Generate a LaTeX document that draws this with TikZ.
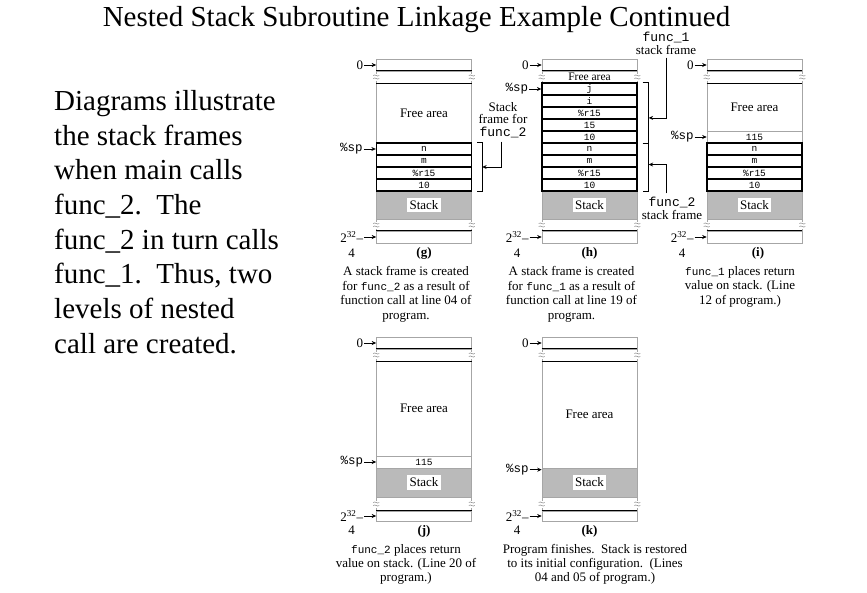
\documentclass[tikz,border=0pt]{standalone}
\usepackage{fontspec}
\setmainfont{Liberation Serif}
\setmonofont{Liberation Mono}
\usetikzlibrary{arrows.meta, positioning, calc}

\newcommand{\fname}[1]{{\ttfamily\fontsize{11}{14.7}\selectfont #1}}

\begin{document}
\begin{tikzpicture}[
    x=1pt, y=-1pt,
    font=\fontsize{13}{14.7}\selectfont,
    rim/.style={
        rectangle, draw=gray!70, line width=0.6pt,
        minimum width=95pt, inner sep=0pt
    },
    slot/.style={
        rim, minimum height=12pt,
        font=\ttfamily\fontsize{9.5}{10}\selectfont
    },
    cell/.style={slot, draw=black, line width=1.3pt},
    freebox/.style={rim},
    heap/.style={rim, fill=black!27},
    stacktag/.style={fill=white, inner sep=2.5pt},
    bar/.style={draw=black, line width=1.3pt},
    lbl/.style={inner sep=1pt},
    reg/.style={lbl, font=\ttfamily\fontsize{12.5}{14}\selectfont},
    ptr/.style={-{Stealth[length=4.5pt, width=4pt]}, line width=0.8pt},
    bracket/.style={draw=black, line width=1pt},
    tag/.style={font=\bfseries\fontsize{13}{14.7}\selectfont},
    capt/.style={align=center, anchor=north, inner sep=0pt},
    note/.style={align=center, font=\fontsize{13}{12.8}\selectfont},
    squig/.pic={
        \fill[white] (-1.6,-3.5) rectangle (1.6,3.5);
        \draw[gray, line width=0.5pt] (-3,-1.5) .. controls (-1,-3.5) and (1,0.5) .. (3,-1.5);
        \draw[gray, line width=0.5pt] (-3,1.5) .. controls (-1,-0.5) and (1,3.5) .. (3,1.5);
    }
]
\useasboundingbox (0,0) rectangle (867,592);

% -------------------------
% Title and description
% -------------------------
\node[anchor=base, font=\fontsize{29}{30}\selectfont] (title) at (416.5,26) {Nested Stack Subroutine Linkage Example Continued};
\node[anchor=north west, align=left, inner sep=0pt, font=\fontsize{29}{34.7}\selectfont] (desc) at (54,90)
    {Diagrams illustrate\\the stack frames\\when main calls\\func\_2.\ \ The\\func\_2 in turn calls\\func\_1.\ \ Thus, two\\levels of nested\\call are created.};

% -------------------------
% (g) frame for func_2
% -------------------------
\node[slot] (gtop) at (424,65) {};
\node[rim, minimum height=12pt] (gbrk) at (424,77) {};
\node[freebox, minimum height=60pt] (gfree) at (424,113) {Free area};
\node[heap, minimum height=28pt] (gheap) at (424,205) {};
\node[stacktag] (gst) at (gheap) {Stack};
\node[rim, minimum height=12pt] (gbrk2) at (424,225) {};
\node[slot] (gend) at (424,237) {};
\node[cell] (gn) at (424,149) {n};
\node[cell] (gm) at (424,161) {m};
\node[cell] (gr) at (424,173) {\%r15};
\node[cell] (gten) at (424,185) {10};
\draw[bar] (gbrk.north west) -- (gbrk.north east) (gbrk.south west) -- (gbrk.south east) (gend.north west) -- (gend.north east);
\pic at (gbrk.west) {squig}; \pic at (gbrk.east) {squig}; \pic at (gbrk2.west) {squig}; \pic at (gbrk2.east) {squig};

\node[lbl, left=12pt of gtop] (gzero) {0};
\node[reg, left=12pt of gn] (gsp) {\%sp};
\node[lbl, left=12pt of gend] (glim) {2\textsuperscript{32}--};
\node[lbl, below=4pt of glim] (gfour) {4};
\draw[ptr] (gzero.east) -- (gtop.west);
\draw[ptr] (gsp.east) -- (gn.west);
\draw[ptr] (glim.east) -- (gend.west);

\draw[bracket] ([xshift=5pt]gn.north east) -- ++(5,0) |- ([xshift=5pt]gten.south east);
\coordinate (gmid) at ([xshift=10pt]$(gn.north east)!0.5!(gten.south east)$);

\node[tag] (gtag) at (424,253) {(g)};
\node[capt] (gcap) at (406,266) {A stack frame is created\\for \fname{func\_2} as a result of\\function call at line 04 of\\program.};

% -------------------------
% (h) frame for func_1 on top
% -------------------------
\node[slot] (htop) at (589.5,65) {};
\node[rim, minimum height=12pt, font=\fontsize{11.5}{12}\selectfont] (hbrk) at (589.5,77) {Free area};
\node[heap, minimum height=28pt] (hheap) at (589.5,205) {};
\node[stacktag] (hst) at (hheap) {Stack};
\node[rim, minimum height=12pt] (hbrk2) at (589.5,225) {};
\node[slot] (hend) at (589.5,237) {};
\node[cell] (hj) at (589.5,89) {j};
\node[cell] (hi) at (589.5,101) {i};
\node[cell] (hr1) at (589.5,113) {\%r15};
\node[cell] (hfif) at (589.5,125) {15};
\node[cell] (hten1) at (589.5,137) {10};
\node[cell] (hn) at (589.5,149) {n};
\node[cell] (hm) at (589.5,161) {m};
\node[cell] (hr2) at (589.5,173) {\%r15};
\node[cell] (hten2) at (589.5,185) {10};
\draw[bar] (hbrk.north west) -- (hbrk.north east) (hend.north west) -- (hend.north east);
\pic at (hbrk.west) {squig}; \pic at (hbrk.east) {squig}; \pic at (hbrk2.west) {squig}; \pic at (hbrk2.east) {squig};

\node[lbl, left=12pt of htop] (hzero) {0};
\node[reg, left=12pt of hj] (hsp) {\%sp};
\node[lbl, left=12pt of hend] (hlim) {2\textsuperscript{32}--};
\node[lbl, below=4pt of hlim] (hfour) {4};
\draw[ptr] (hzero.east) -- (htop.west);
\draw[ptr] (hsp.east) -- (hj.west);
\draw[ptr] (hlim.east) -- (hend.west);

\draw[bracket] ([xshift=5pt]hj.north east) -- ++(6,0) |- ([xshift=5pt]hten2.south east);
\draw[bracket] ([xshift=5pt]hten1.south east) -- ++(6,0);
\coordinate (hmid1) at ([xshift=11pt]$(hj.north east)!0.58!(hten1.south east)$);
\coordinate (hmid2) at ([xshift=11pt]$(hn.north east)!0.45!(hten2.south east)$);

\node[note] (hnote) at (503,120) {Stack\\frame for\\{\ttfamily func\_2}};
\draw[ptr] ([xshift=-2pt]hnote.south) |- (gmid);
\node[note] (hf1) at (666,43) {{\ttfamily func\_1}\\stack frame};
\draw[ptr] (hf1.south) |- (hmid1);
\node[note] (hf2) at (672,208) {{\ttfamily func\_2}\\stack frame};
\draw[ptr] ([xshift=-6pt]hf2.north) |- (hmid2);

\node[tag] (htag) at (589.5,253) {(h)};
\node[capt] (hcap) at (571.5,266) {A stack frame is created\\for \fname{func\_1} as a result of\\function call at line 19 of\\program.};

% -------------------------
% (i) func_1 returns value
% -------------------------
\node[slot] (itop) at (754.5,65) {};
\node[rim, minimum height=12pt] (ibrk) at (754.5,77) {};
\node[freebox, minimum height=48pt] (ifree) at (754.5,107) {Free area};
\node[slot] (iret) at (754.5,137) {115};
\node[heap, minimum height=28pt] (iheap) at (754.5,205) {};
\node[stacktag] (ist) at (iheap) {Stack};
\node[rim, minimum height=12pt] (ibrk2) at (754.5,225) {};
\node[slot] (iend) at (754.5,237) {};
\node[cell] (in) at (754.5,149) {n};
\node[cell] (im) at (754.5,161) {m};
\node[cell] (ir) at (754.5,173) {\%r15};
\node[cell] (iten) at (754.5,185) {10};
\draw[bar] (ibrk.north west) -- (ibrk.north east) (ibrk.south west) -- (ibrk.south east) (iend.north west) -- (iend.north east);
\pic at (ibrk.west) {squig}; \pic at (ibrk.east) {squig}; \pic at (ibrk2.west) {squig}; \pic at (ibrk2.east) {squig};

\node[lbl, left=12pt of itop] (izero) {0};
\node[reg, left=12pt of iret] (isp) {\%sp};
\node[lbl, left=12pt of iend] (ilim) {2\textsuperscript{32}--};
\node[lbl, below=4pt of ilim] (ifour) {4};
\draw[ptr] (izero.east) -- (itop.west);
\draw[ptr] (isp.east) -- (iret.west);
\draw[ptr] (ilim.east) -- (iend.west);

\node[tag] (itag) at (758,253) {(i)};
\node[capt] (icap) at (740,266) {\fname{func\_1} places return\\value on stack. (Line\\12 of program.)};

% -------------------------
% (j) func_2 returns value
% -------------------------
\node[slot] (jtop) at (424,343) {};
\node[rim, minimum height=12pt] (jbrk) at (424,355) {};
\node[freebox, minimum height=95pt] (jfree) at (424,408.5) {Free area};
\node[slot] (jret) at (424,462) {115};
\node[heap, minimum height=29pt] (jheap) at (424,482.5) {};
\node[stacktag] (jst) at (jheap) {Stack};
\node[rim, minimum height=14pt] (jbrk2) at (424,504) {};
\node[rim, minimum height=10pt] (jend) at (424,516) {};
\draw[bar] (jbrk.north west) -- (jbrk.north east) (jbrk.south west) -- (jbrk.south east) (jend.north west) -- (jend.north east);
\pic at (jbrk.west) {squig}; \pic at (jbrk.east) {squig}; \pic at (jbrk2.west) {squig}; \pic at (jbrk2.east) {squig};

\node[lbl, left=12pt of jtop] (jzero) {0};
\node[reg, left=12pt of jret] (jsp) {\%sp};
\node[lbl, left=12pt of jend] (jlim) {2\textsuperscript{32}--};
\node[lbl, below=2pt of jlim] (jfour) {4};
\draw[ptr] (jzero.east) -- (jtop.west);
\draw[ptr] (jsp.east) -- (jret.west);
\draw[ptr] (jlim.east) -- (jend.west);

\node[tag] (jtag) at (424,531) {(j)};
\node[capt, font=\fontsize{13}{14.2}\selectfont] (jcap) at (406,544) {\fname{func\_2} places return\\value on stack. (Line 20 of\\program.)};

% -------------------------
% (k) program finishes
% -------------------------
\node[slot] (ktop) at (589.5,343) {};
\node[rim, minimum height=12pt] (kbrk) at (589.5,355) {};
\node[freebox, minimum height=107pt] (kfree) at (589.5,414.5) {Free area};
\node[heap, minimum height=29pt] (kheap) at (589.5,482.5) {};
\node[stacktag] (kst) at (kheap) {Stack};
\node[rim, minimum height=14pt] (kbrk2) at (589.5,504) {};
\node[rim, minimum height=10pt] (kend) at (589.5,516) {};
\draw[bar] (kbrk.north west) -- (kbrk.north east) (kbrk.south west) -- (kbrk.south east) (kend.north west) -- (kend.north east);
\pic at (kbrk.west) {squig}; \pic at (kbrk.east) {squig}; \pic at (kbrk2.west) {squig}; \pic at (kbrk2.east) {squig};

\node[lbl, left=12pt of ktop] (kzero) {0};
\node[reg, anchor=east] (ksp) at ([xshift=-12pt, yshift=-2pt]kheap.north west) {\%sp};
\node[lbl, left=12pt of kend] (klim) {2\textsuperscript{32}--};
\node[lbl, below=2pt of klim] (kfour) {4};
\draw[ptr] (kzero.east) -- (ktop.west);
\draw[ptr] (ksp.east) -- (ksp.east -| kheap.west);
\draw[ptr] (klim.east) -- (kend.west);

\node[tag] (ktag) at (589.5,531) {(k)};
\node[capt, font=\fontsize{13}{14.2}\selectfont] (kcap) at (595,544) {Program finishes.\ \ Stack is restored\\to its initial configuration.\ \ (Lines\\04 and 05 of program.)};

\end{tikzpicture}
\end{document}
